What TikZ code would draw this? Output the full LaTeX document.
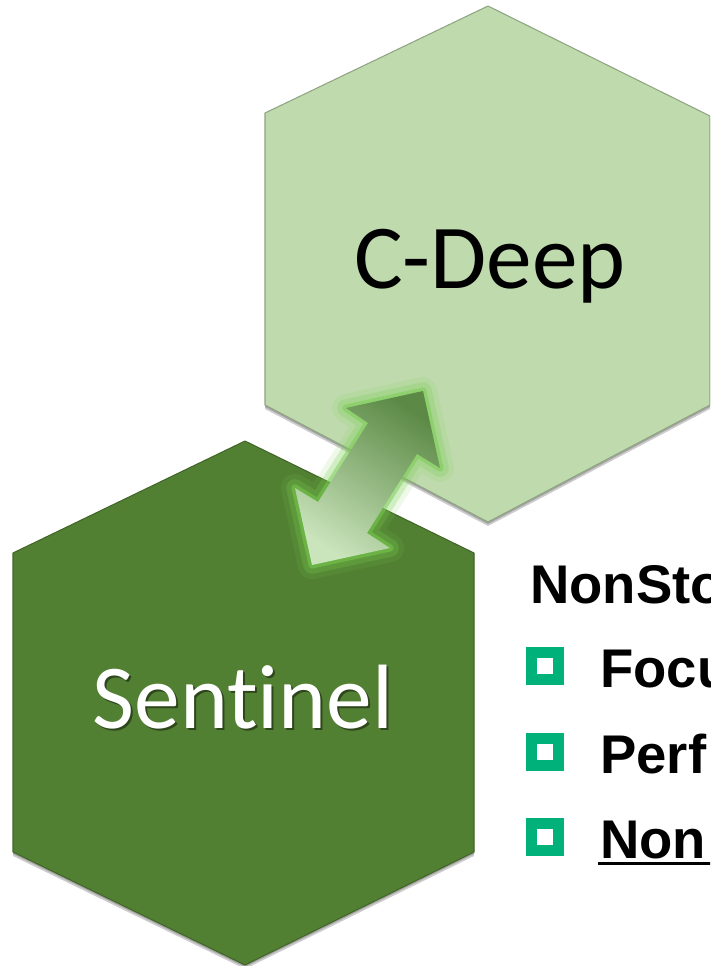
\documentclass[tikz,border=0pt]{standalone}
\usepackage{fontspec}
\setmainfont{Carlito}[Ligatures=NoCommon]
\newfontfamily\itemfont{Liberation Sans}
\usetikzlibrary{calc}
\definecolor{cdeepgreen}{RGB}{191,219,174}
\definecolor{sentinelgreen}{RGB}{82,128,50}
\definecolor{bulletgreen}{RGB}{0,178,122}
\definecolor{arrowdark}{RGB}{92,138,70}
\definecolor{arrowlight}{RGB}{202,228,188}
\definecolor{glowgreen}{RGB}{120,205,80}
\newcommand{\cdeephex}{(488,6) -- (710,116) -- (710,405) -- (488,522) -- (265,405) -- (265,113) -- cycle}
\newcommand{\sentinelhex}{(245,441) -- (474,553) -- (474,852) -- (245,965) -- (13,852) -- (13,553) -- cycle}
\newcommand{\linkarrow}{(423,391) -- (440,468) -- (417,454) -- (367,533) -- (390,548) -- (312,565) -- (295,488) -- (318,502) -- (368,423) -- (346,408) -- cycle}

\begin{document}
\begin{tikzpicture}
  [
    x=0.02cm, y=-0.02cm,
    hexshadow/.style = {fill=black, opacity=0.2},
    hexlight/.style = {fill=cdeepgreen, draw=cdeepgreen!75!black, line width=0.6pt, line join=round},
    hexdark/.style = {fill=sentinelgreen, draw=sentinelgreen!80!black, line width=0.6pt, line join=round},
    hexlabel/.style = {font=\fontsize{52}{60}\selectfont, inner sep=0pt, anchor=base},
    glow/.style = {draw=glowgreen, line join=round},
    bulletbox/.style = {draw=bulletgreen, fill=white, line width=0.22cm, minimum size=0.54cm, inner sep=0pt},
    itemtext/.style = {font=\itemfont\bfseries\fontsize{31}{36}\selectfont, inner sep=0pt, anchor=base west},
  ]

  \useasboundingbox (0,0) rectangle (710,966);
  \clip (0,0) rectangle (710,966);

  % hexagons
  \fill[hexshadow, yshift=-0.04cm] \cdeephex;
  \fill[hexshadow, yshift=-0.08cm] \cdeephex;
  \filldraw[hexlight] \cdeephex;
  \node[hexlabel] (cdeep) at (490,288) {C-Deep};

  \fill[hexshadow, yshift=-0.04cm] \sentinelhex;
  \fill[hexshadow, yshift=-0.08cm] \sentinelhex;
  \filldraw[hexdark] \sentinelhex;
  \node[hexlabel, text=black, opacity=0.45] (sentinelshadow) at (245,730) {Sentinel};
  \node[hexlabel, text=white] (sentinel) at (243,728) {Sentinel};

  % link between them
  \draw[glow, line width=16pt, opacity=0.12] \linkarrow;
  \draw[glow, line width=10pt, opacity=0.25] \linkarrow;
  \draw[glow, line width=4pt, opacity=0.5] \linkarrow;
  \shade[top color=arrowdark, bottom color=arrowlight, shading angle=-32.5] \linkarrow;

  % list
  \node[itemtext] (heading) at (530,603) {NonSto};

  \node[bulletbox] (bul1) at (545,666) {};
  \node[bulletbox] (bul2) at (545,752) {};
  \node[bulletbox] (bul3) at (545,837) {};

  \node[itemtext] (focusline) at (600,687) {Focu};
  \node[itemtext] (perfline) at (600,773) {Perf};
  \node[itemtext] (nonline) at (600,858) {Non};
  \draw[line width=1.7pt] ($(nonline.base west)+(-2,5)$) -- ($(nonline.base west)+(130,5)$);
\end{tikzpicture}
\end{document}
